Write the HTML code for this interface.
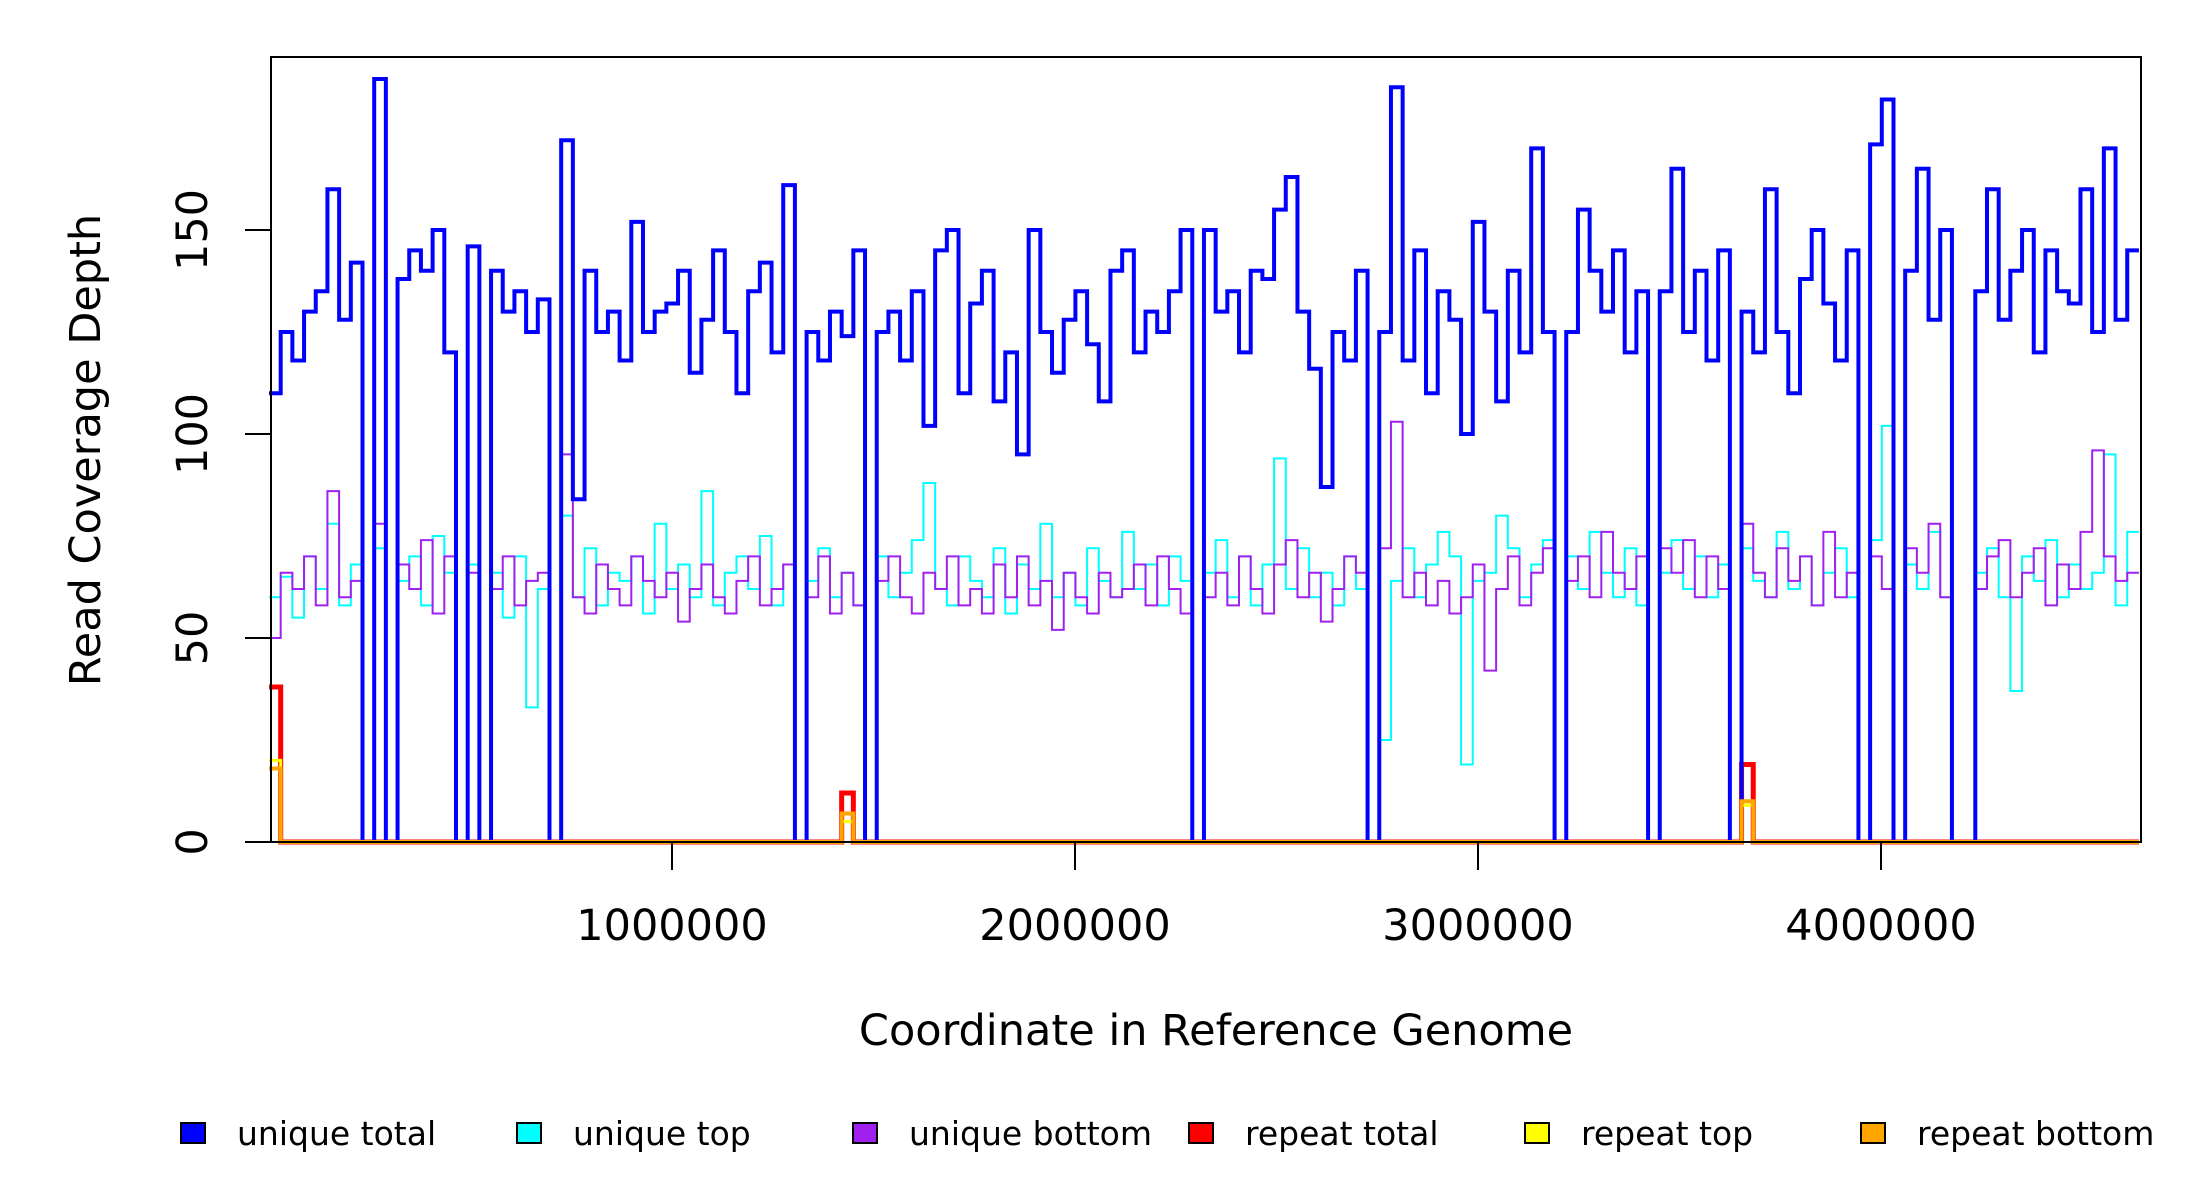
<!DOCTYPE html>
<html><head><meta charset="utf-8"><style>
html,body{margin:0;padding:0;background:#fff;}
svg{display:block;font-family:"DejaVu Sans","Liberation Sans",sans-serif;}
</style></head><body>
<svg id="chart" width="2200" height="1200" viewBox="0 0 2200 1200" xmlns="http://www.w3.org/2000/svg">
<g id="plot"></g>
<rect x="271" y="57" width="1870" height="785" fill="none" stroke="#000" stroke-width="2"/>
<g id="axes"></g>
<text x="0" y="0" transform="translate(100,450) rotate(-90)" text-anchor="middle" font-size="43">Read Coverage Depth</text>
<text x="1216" y="1045" text-anchor="middle" font-size="43">Coordinate in Reference Genome</text>
<g id="legend"></g>
</svg>
<script>
const binSize = 29000;
const uniqueTotal = [
110,125,118,130,135,160,128,142,0,187,
0,138,145,140,150,120,0,146,0,140,
130,135,125,133,0,172,84,140,125,130,
118,152,125,130,132,140,115,128,145,125,
110,135,142,120,161,0,125,118,130,124,
145,0,125,130,118,135,102,145,150,110,
132,140,108,120,95,150,125,115,128,135,
122,108,140,145,120,130,125,135,150,0,
150,130,135,120,140,138,155,163,130,116,
87,125,118,140,0,125,185,118,145,110,
135,128,100,152,130,108,140,120,170,125,
0,125,155,140,130,145,120,135,0,135,
165,125,140,118,145,0,130,120,160,125,
110,138,150,132,118,145,0,171,182,0,
140,165,128,150,0,0,135,160,128,140,
150,120,145,135,132,160,125,170,128,145];
const uniqueTop = [
60,65,55,70,62,78,58,68,0,72,
0,64,70,58,75,66,0,68,0,66,
55,70,33,62,0,80,60,72,58,66,
64,70,56,78,62,68,60,86,58,66,
70,62,75,58,68,0,64,72,60,66,
58,0,70,60,66,74,88,62,58,70,
64,60,72,56,68,62,78,60,66,58,
72,64,60,76,62,68,58,70,64,0,
66,74,60,70,58,68,94,62,72,60,
66,58,70,62,0,25,64,72,60,68,
76,70,19,64,66,80,72,60,68,74,
0,70,62,76,66,60,72,58,0,66,
74,62,70,60,68,0,72,64,60,76,
62,70,58,66,72,60,0,74,102,0,
68,62,76,60,0,0,66,72,60,37,
70,64,74,60,68,62,66,95,58,76];
const uniqueBottom = [
50,66,62,70,58,86,60,64,0,78,
0,68,62,74,56,70,0,66,0,62,
70,58,64,66,0,95,60,56,68,62,
58,70,64,60,66,54,62,68,60,56,
64,70,58,62,68,0,60,70,56,66,
58,0,64,70,60,56,66,62,70,58,
62,56,68,60,70,58,64,52,66,60,
56,66,60,62,68,58,70,62,56,0,
60,66,58,70,62,56,68,74,60,66,
54,62,70,66,0,72,103,60,66,58,
64,56,60,68,42,62,70,58,66,72,
0,64,70,60,76,66,62,70,0,72,
66,74,60,70,62,0,78,66,60,72,
64,70,58,76,60,66,0,70,62,0,
72,66,78,60,0,0,62,70,74,60,
66,72,58,68,62,76,96,70,64,66];
const repeatBins = [0, 49, 126];
const repeatTotalVals = [38, 12, 19];
const repeatTopVals = [20, 5, 9];
const repeatBottomVals = [18, 7, 10];
const xTicks = [1000000, 2000000, 3000000, 4000000];
const yTicks = [0, 50, 100, 150];
const legendLabels = ["unique total","unique top","unique bottom","repeat total","repeat top","repeat bottom"];
const legendColors = ["#0000ff","#00ffff","#a020f0","#ff0000","#ffff00","#ffa500"];

const NS = "http://www.w3.org/2000/svg";
const X0 = 269, XPM = 403, Y0 = 842, YPU = 4.08;
function xs(v){ return X0 + v / 1000000 * XPM; }
function ys(v){ return Y0 - v * YPU; }
function mk(tag, attrs, parent){ const e = document.createElementNS(NS, tag); for (const k in attrs) e.setAttribute(k, attrs[k]); parent.appendChild(e); return e; }
const plot = document.getElementById('plot');
function stepPath(vals){
  let d = "";
  vals.forEach((v,i)=>{
    const xa = xs(i*binSize), xb = xs((i+1)*binSize);
    d += (i===0 ? "M"+xa+","+ys(v) : "V"+ys(v)) + "H" + xb;
  });
  return d;
}
function fullSeries(bins, vals){
  const a = uniqueTotal.map(()=>0);
  bins.forEach((b,i)=>{ a[b] = vals[i]; });
  return a;
}
let p;
p = mk('path', {d: stepPath(uniqueTop), fill:'none', stroke:'#00ffff', 'stroke-width':2}, plot);


p = mk('path', {d: stepPath(uniqueBottom), fill:'none', stroke:'#a020f0', 'stroke-width':2}, plot);


p = mk('path', {d: stepPath(fullSeries(repeatBins, repeatTotalVals)), fill:'none', stroke:'#ff0000', 'stroke-width':5}, plot);


p = mk('path', {d: stepPath(uniqueTotal), fill:'none', stroke:'#0000ff', 'stroke-width':4}, plot);


p = mk('path', {d: stepPath(fullSeries(repeatBins, repeatTopVals)), fill:'none', stroke:'#ffff00', 'stroke-width':3}, plot);


p = mk('path', {d: stepPath(fullSeries(repeatBins, repeatBottomVals)), fill:'none', stroke:'#ffa500', 'stroke-width':4}, plot);



const axes = document.getElementById('axes');
yTicks.forEach(v=>{
  const l = mk('line', {x1:245, x2:271, y1:ys(v), y2:ys(v), stroke:'#000','stroke-width':2}, axes);
  
  
  const tx = mk('text', {transform:'translate(207,'+ys(v)+') rotate(-90)', 'text-anchor':'middle','font-size':43}, axes);
  tx.textContent = v;
  
  
});
xTicks.forEach(v=>{
  const l = mk('line', {x1:xs(v), x2:xs(v), y1:842, y2:870, stroke:'#000','stroke-width':2}, axes);
  
  
  const tx = mk('text', {x:xs(v), y:940, 'text-anchor':'middle','font-size':43}, axes);
  tx.textContent = v;
  
  
});
const legend = document.getElementById('legend');
legendLabels.forEach((lab,i)=>{
  const bx = 181 + i*336;
  const g = mk('g', {}, legend);
  
  
  mk('rect', {x:bx, y:1123, width:24, height:20, fill:legendColors[i], stroke:'#000','stroke-width':2}, g);
  const tx = mk('text', {x:bx+56, y:1145, 'font-size':33}, g);
  tx.textContent = lab;
});
</script>
</body></html>
